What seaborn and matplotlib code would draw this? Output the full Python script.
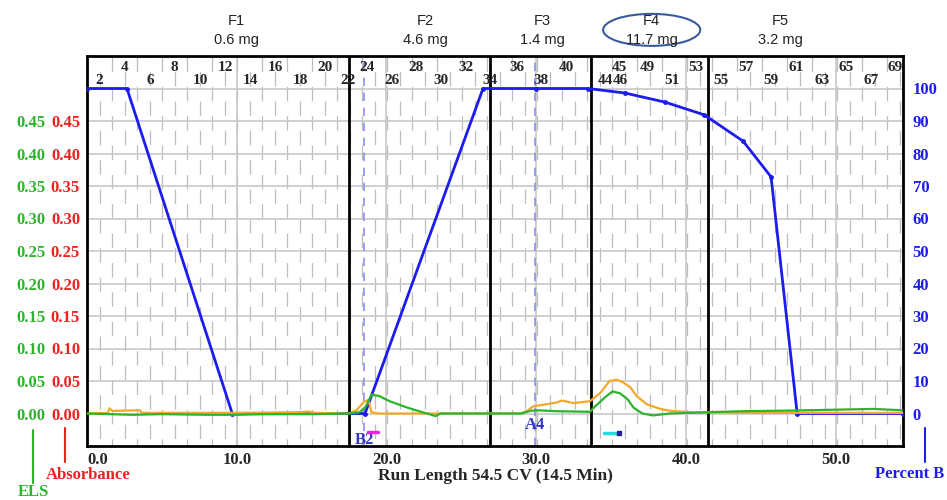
import numpy as np
import pandas as pd
import matplotlib
matplotlib.use('Agg')
import matplotlib.pyplot as plt
import matplotlib.transforms as mtransforms
from matplotlib.patches import Ellipse
from matplotlib.lines import Line2D
import seaborn as sns

sns.set_style('white')
plt.rcParams['font.family'] = ['Liberation Serif', 'DejaVu Serif']

# gradient, percent B vs run length (CV)
grad_cv = [0.0, 2.67, 9.70, 18.57, 26.45, 30.0, 33.47, 35.94, 38.61, 41.22, 43.82, 45.69, 47.43, 54.5]
grad_pct = [100, 100, 0, 0, 100, 100, 100, 98.6, 95.8, 91.9, 83.8, 72.8, 0, 0]

# absorbance trace
abs_cv = [0.0, 1.4, 1.5, 1.7, 3.5, 3.7, 10.0, 14.0, 14.8, 15.2, 17.5, 18.0, 18.5, 18.8, 19.0,
          19.5, 29.0, 29.4, 29.8, 31.4, 31.7, 32.5, 33.6, 34.3, 34.9, 35.4, 35.8, 36.3, 36.7,
          37.4, 38.3, 39.0, 40.3, 45.0, 54.5]
abs_val = [0.0, 0.001, 0.008, 0.004, 0.005, 0.001, 0.001, 0.002, 0.003, 0.001, 0.0, 0.005, 0.018,
           0.021, 0.002, 0.0, 0.0, 0.004, 0.011, 0.017, 0.020, 0.016, 0.019, 0.032, 0.050, 0.052,
           0.048, 0.040, 0.027, 0.014, 0.007, 0.004, 0.002, 0.001, 0.001]

# ELS trace
els_cv = [0.0, 1.5, 3.0, 5.0, 8.0, 10.0, 12.0, 15.0, 17.5, 18.2, 18.6, 19.0, 19.5, 20.2, 21.4,
          22.4, 23.3, 23.6, 26.0, 29.0, 29.6, 30.0, 31.4, 33.6, 33.8, 34.6, 35.1, 35.6, 36.1,
          36.5, 37.1, 37.8, 38.9, 41.5, 44.0, 47.4, 50.3, 52.5, 54.5]
els_val = [0.0, -0.001, -0.002, -0.001, -0.002, -0.002, -0.001, -0.001, 0.0, 0.002, 0.010, 0.029,
           0.027, 0.019, 0.009, 0.002, -0.004, 0.0, 0.0, 0.0, 0.004, 0.005, 0.0035, 0.0026, 0.008,
           0.025, 0.034, 0.031, 0.022, 0.009, 0.0, -0.003, 0.0, 0.002, 0.0036, 0.0046, 0.006,
           0.007, 0.005]

# fractions
frac_edges = [17.5, 26.9, 33.65, 41.48]
frac_names = ['F1', 'F2', 'F3', 'F4', 'F5']
frac_mass = ['0.6 mg', '4.6 mg', '1.4 mg', '11.7 mg', '3.2 mg']
frac_label_cv = [10.0, 22.6, 30.4, 37.7, 46.3]

# tube numbers along the top (0 = lower row, 1 = upper row)
tube_nums = [2, 4, 6, 8, 10, 12, 14, 16, 18, 20, 22, 24, 26, 28, 30, 32, 34, 36, 38, 40,
             44, 46, 45, 49, 51, 53, 55, 57, 59, 61, 63, 65, 67, 69]
tube_cv = [0.80, 2.50, 4.21, 5.84, 7.55, 9.22, 10.89, 12.56, 14.23, 15.90, 17.40, 18.70, 20.37,
           21.98, 23.64, 25.32, 26.92, 28.72, 30.32, 32.0, 34.6, 35.6, 35.53, 37.4, 39.08, 40.68,
           42.35, 44.02, 45.69, 47.36, 49.1, 50.7, 52.37, 53.97]
tube_row = [0, 1, 0, 1, 0, 1, 0, 1, 0, 1, 0, 1, 0, 1, 0, 1, 0, 1, 0, 1,
            0, 0, 1, 1, 0, 1, 0, 1, 0, 1, 0, 1, 0, 1]
tube_width = 0.835

# tube markers
mark_names = ['B2', 'A4']
mark_cv = [18.5, 29.9]
mark_y = [-8.0, -3.6]

GREEN = '#2bb52b'
RED = '#ee2020'
BLUE = '#1c1cee'
ORANGE = '#f2a92a'

fig = plt.figure(figsize=(9.47, 5.0), dpi=100)
ax = fig.add_axes([87 / 947, 54 / 500, 816 / 947, 390 / 500])
ax.set_xlim(0, 54.5)
ax.set_ylim(-10, 110)

# brick pattern of tube dashes
for k in range(1, 66):
    off = 17.5 if k % 2 == 1 else 5.8
    ax.axvline(k * tube_width, color='#bdbdbd', lw=0.9, linestyle=(off, (11.5, 12.0)), zorder=0)

ax.set_xticks([0, 10, 20, 30, 40, 50])
ax.set_xticklabels(['0.0', '10.0', '20.0', '30.0', '40.0', '50.0'],
                   fontsize=12, fontweight='bold')
ax.grid(True, color='#c8c8c8', lw=1.2, zorder=0)
for s in ax.spines.values():
    s.set_linewidth(2)
    s.set_color('black')
ax.set_xlabel('Run Length 54.5 CV (14.5 Min)', fontsize=12.5, fontweight='bold', labelpad=0)

for x in frac_edges:
    ax.axvline(x, color='black', lw=2, zorder=2)
for x in mark_cv:
    ax.axvline(x, color='#8f8fef', lw=1.2, linestyle=(0, (5, 4)), zorder=2)

grad = pd.DataFrame({'cv': grad_cv, 'pct': grad_pct})
sns.lineplot(data=grad, x='cv', y='pct', ax=ax, color=BLUE, lw=2, marker='o',
             markersize=3.5, markeredgewidth=0, zorder=4)
ax.set_ylabel('')

# absorbance axis (red labels) and ELS axis (green labels)
ax_abs = ax.twinx()
ax_els = ax.twinx()
for a, col, pad in [(ax_abs, RED, 5), (ax_els, GREEN, 30)]:
    a.set_ylim(-0.05, 0.55)
    a.yaxis.tick_left()
    a.set_yticks(np.arange(0, 0.46, 0.05))
    a.set_yticklabels(['%.2f' % v for v in np.arange(0, 0.46, 0.05)], fontsize=12,
                      fontweight='bold', color=col)
    a.tick_params(axis='y', length=0, pad=pad)
    for s in a.spines.values():
        s.set_visible(False)

# percent B ticks on the right (twinx moves them, so set after)
ax.yaxis.tick_right()
ax.set_yticks(np.arange(0, 101, 10))
ax.set_yticklabels([str(v) for v in range(0, 101, 10)], fontsize=12,
                   fontweight='bold', color=BLUE)
ax.tick_params(axis='both', length=0)
ax.tick_params(axis='x', pad=4)
ax.tick_params(axis='y', pad=7)
ax.get_xticklabels()[0].set_horizontalalignment('left')

sns.lineplot(x=abs_cv, y=abs_val, ax=ax_abs, color=ORANGE, lw=1.6)
sns.lineplot(x=els_cv, y=els_val, ax=ax_els, color=GREEN, lw=1.6)
ax_abs.set_ylabel('')
ax_els.set_ylabel('')

# marker labels and collection bars
for name, x, y in zip(mark_names, mark_cv, mark_y):
    ax.text(x, y, name, color='#3434c8', fontsize=12, fontweight='bold', ha='center',
            va='center', zorder=5)
ax.plot([18.75, 19.45], [-5.8, -5.8], color='#ee22ee', lw=2.5, zorder=5)
ax.plot([34.5, 35.55], [-6.1, -6.1], color='#22dddd', lw=2.5, zorder=5)
ax.plot([35.55], [-6.1], 's', color='#2020a0', ms=2.5, zorder=6)

# tube numbers
tr = mtransforms.blended_transform_factory(ax.transData, ax.transAxes)
for n, x, r in zip(tube_nums, tube_cv, tube_row):
    ax.text(x, 0.970 if r else 0.938, str(n), transform=tr, fontsize=11, fontweight='bold',
            ha='center', va='center', clip_on=True, zorder=6)

# fraction annotations
for name, mass, x in zip(frac_names, frac_mass, frac_label_cv):
    ax.text(x, 1.090, name, transform=tr, fontsize=10.5, ha='center', va='center',
            family='Liberation Sans', color='#222222')
    ax.text(x, 1.041, mass, transform=tr, fontsize=10.5, ha='center', va='center',
            family='Liberation Sans', color='#222222')
ax.add_patch(Ellipse((0.692, 1.067), 0.119, 0.082, transform=ax.transAxes, fill=False,
                     ec='#3a5a9a', lw=1.5, clip_on=False))

# axis captions below the plot
fig.add_artist(Line2D([33 / 947, 33 / 947], [1 - 430 / 500, 1 - 483 / 500], color=GREEN, lw=1.5))
fig.text(33 / 947, 1 - 492 / 500, 'ELS', color=GREEN, fontsize=12, fontweight='bold',
         ha='center', va='center')
fig.add_artist(Line2D([65 / 947, 65 / 947], [1 - 428 / 500, 1 - 462 / 500], color=RED, lw=1.5))
fig.text(88 / 947, 1 - 475 / 500, 'Absorbance', color=RED, fontsize=12, fontweight='bold',
         ha='center', va='center')
fig.add_artist(Line2D([925 / 947, 925 / 947], [1 - 428 / 500, 1 - 462 / 500], color=BLUE, lw=1.5))
fig.text(910 / 947, 1 - 474 / 500, 'Percent B', color=BLUE, fontsize=12, fontweight='bold',
         ha='center', va='center')

fig.savefig('out.png', dpi=100)
